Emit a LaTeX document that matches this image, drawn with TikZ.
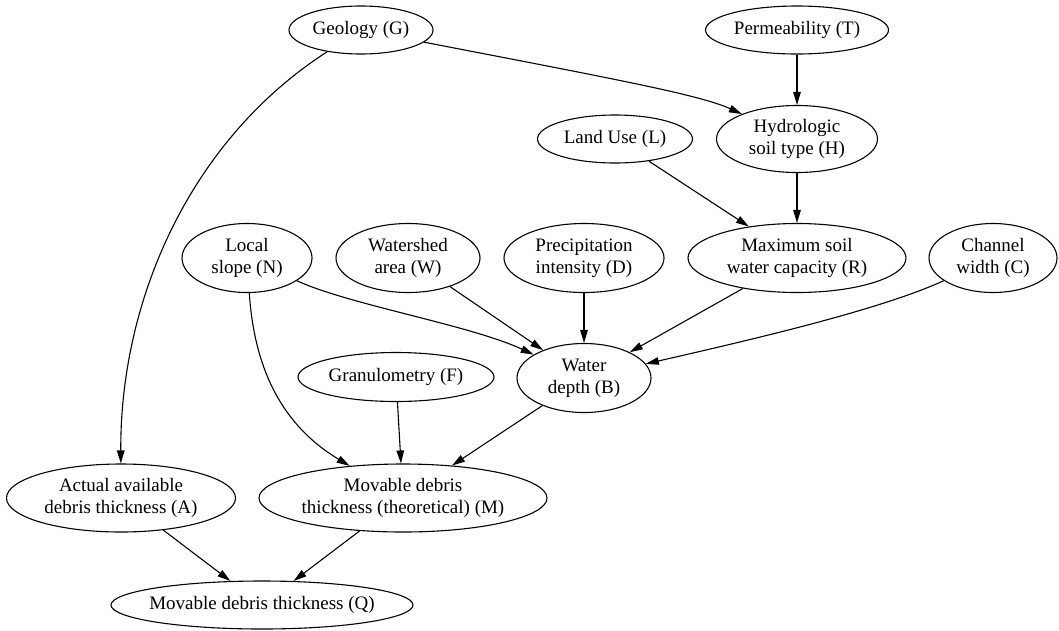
\documentclass[tikz,border=0pt]{standalone}
\usepackage{fontspec}
\setmainfont{Liberation Serif}
\usetikzlibrary{shapes.geometric,arrows.meta}
\tikzset{
  ell/.style={draw, ellipse, line width=1.1pt, inner sep=0pt},
  lab/.style={align=center, font=\fontsize{19}{22}\selectfont, inner sep=0pt},
  conn/.style={line width=1.1pt, -{Triangle[length=13pt,width=7.5pt]}}
}
\newcommand\enode[6]{\node[ell, minimum width=#4pt, minimum height=#5pt, label={[lab]center:{#6}}] (#1) at (#2,#3) {};}
\begin{document}
\begin{tikzpicture}[x=1pt,y=-1pt]
\useasboundingbox (0,0) rectangle (1059,630);
% row 1
\enode{G}{361}{30}{144}{48}{Geology (G)}
\enode{T}{797}{30}{183}{48}{Permeability (T)}
% row 2
\enode{L}{615}{139}{155}{48}{Land Use (L)}
\enode{H}{797}{139}{161}{67}{Hydrologic\\soil type (H)}
% row 3
\enode{N}{247}{258}{130}{69}{Local\\slope (N)}
\enode{W}{408}{258}{144}{69}{Watershed\\area (W)}
\enode{D}{584}{258}{160}{69}{Precipitation\\intensity (D)}
\enode{R}{797}{258}{218}{69}{Maximum soil\\water capacity (R)}
\enode{C}{993}{258}{128}{69}{Channel\\width (C)}
% row 4
\enode{F}{396}{377}{196}{49}{Granulometry (F)}
\enode{B}{584}{378}{134}{69}{Water\\depth (B)}
% row 5
\enode{A}{121}{498}{229}{68}{Actual available\\debris thickness (A)}
\enode{M}{403}{498}{288}{68}{Movable debris\\thickness (theoretical) (M)}
% row 6
\enode{Q}{262}{605}{302}{48}{Movable debris thickness (Q)}
% connectors
\draw[conn] (G) .. controls (190,140) and (120,300) .. (A);
\draw[conn] (G) .. controls (620,80) and (700,95) .. (H);
\draw[conn] (T) -- (H);
\draw[conn] (L) -- (R);
\draw[conn] (H) -- (R);
\draw[conn] (N) .. controls (350,305) and (470,325) .. (B);
\draw[conn] (N) .. controls (255,380) and (290,430) .. (M);
\draw[conn] (W) -- (B);
\draw[conn] (D) -- (B);
\draw[conn] (R) -- (B);
\draw[conn] (C) .. controls (880,310) and (750,340) .. (B);
\draw[conn] (F) -- (M);
\draw[conn] (B) -- (M);
\draw[conn] (A) -- (Q);
\draw[conn] (M) -- (Q);
\end{tikzpicture}
\end{document}
